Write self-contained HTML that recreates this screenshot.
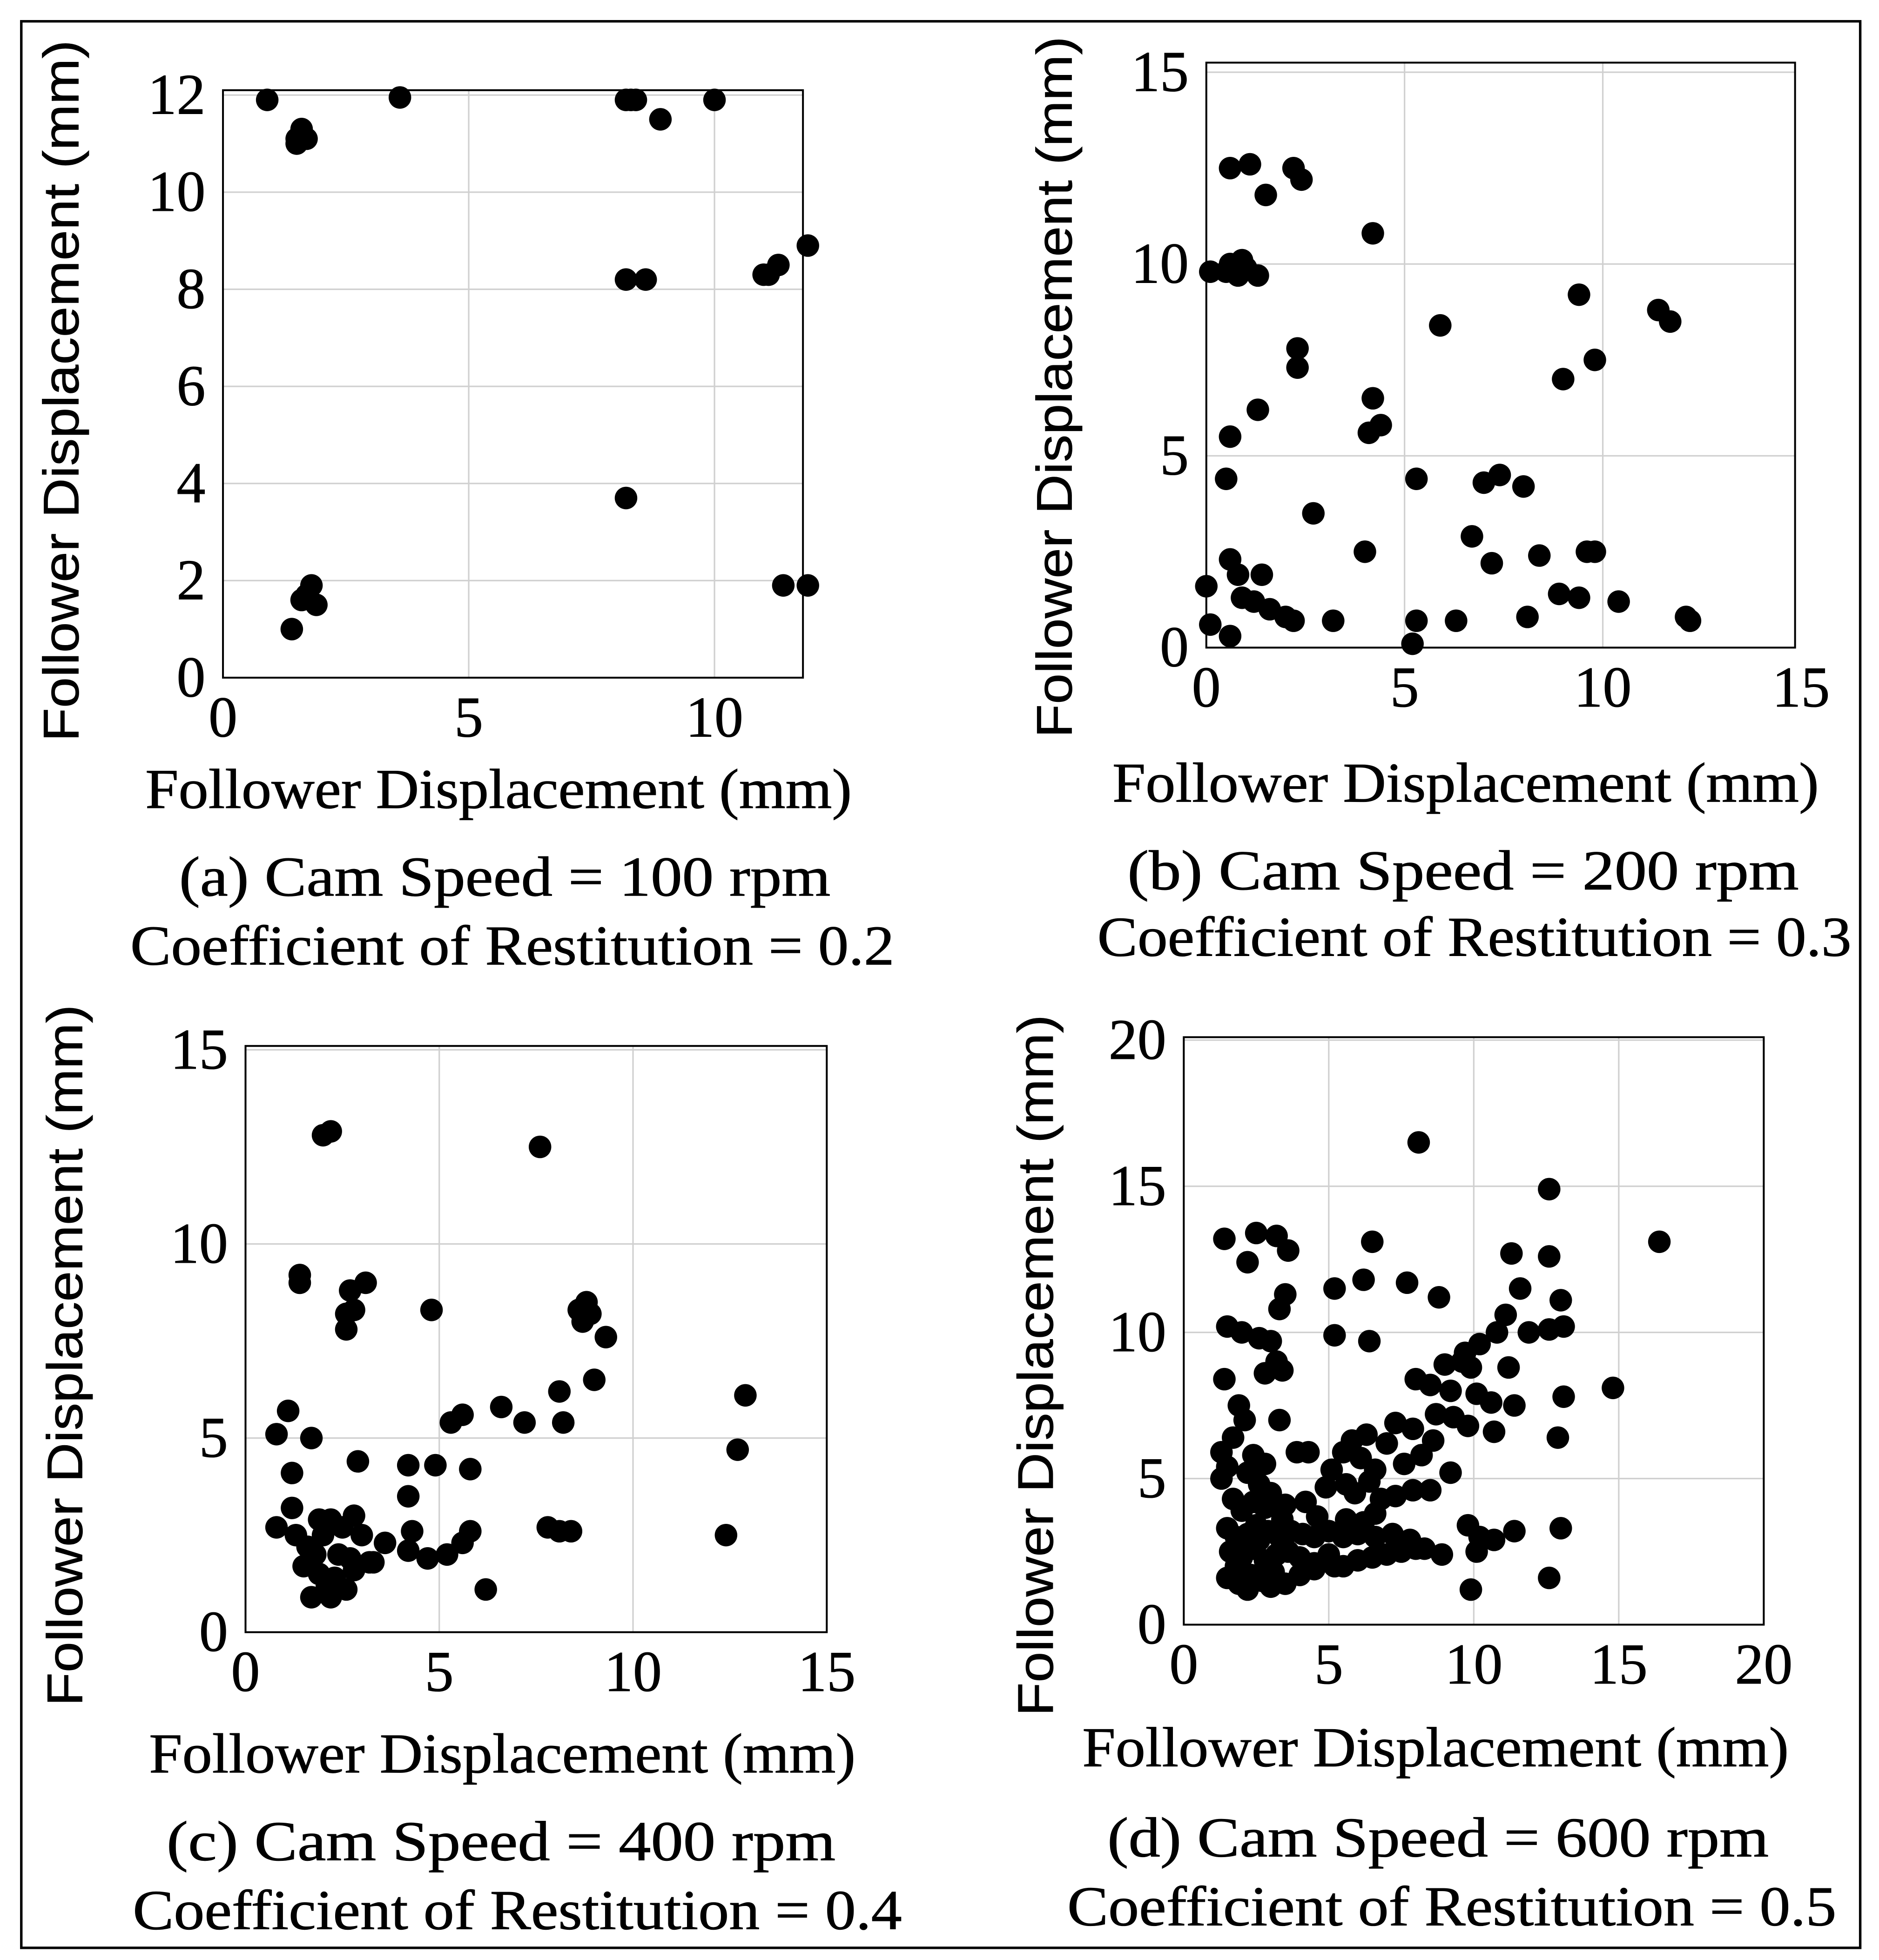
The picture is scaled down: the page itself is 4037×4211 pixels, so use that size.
<!DOCTYPE html>
<html><head><meta charset="utf-8">
<style>
html,body{margin:0;padding:0;background:#fff;}
svg{display:block;}
.tick{font-family:"Liberation Serif",serif;font-size:46px;fill:#000;stroke:#000;stroke-width:0.4;}
.ytitle{font-family:"Liberation Sans",sans-serif;font-size:40px;fill:#000;stroke:#000;stroke-width:0.3;}
.xtitle{font-family:"Liberation Serif",serif;font-size:45px;fill:#000;stroke:#000;stroke-width:0.4;}
.cap{font-family:"Liberation Serif",serif;font-size:45px;fill:#000;stroke:#000;stroke-width:0.4;}
</style></head>
<body>
<svg id="fig" width="4037" height="4211" viewBox="0 0 1500 1564.7" preserveAspectRatio="none" xmlns="http://www.w3.org/2000/svg">
<rect x="17" y="17" width="1468" height="1538" fill="none" stroke="#000" stroke-width="2"/>
</svg>
<script>
const ticksA_x=[0,5,10], ticksA_y=[0,2,4,6,8,10,12];
const ticksB=[0,5,10,15], ticksC=[0,5,10,15], ticksD=[0,5,10,15,20];
const ptsA_x=[0.9,3.6,8.2,8.4,8.3,10,8.9,1.5,1.6,1.7,1.5,8.2,8.6,11,11.1,11.3,11.9,8.2,11.4,11.9,1.8,1.7,1.6,1.9,1.4];
const ptsA_y=[11.9,11.95,11.9,11.9,11.9,11.9,11.5,11,11.3,11.1,11.1,8.2,8.2,8.3,8.3,8.5,8.9,3.7,1.9,1.9,1.9,1.7,1.6,1.5,1.0];
const ptsB_x=[0.1,0.5,0.6,0.8,0.9,1,1.3,0.6,1.1,1.5,2.2,2.4,4.2,1.3,0.6,0.5,2.3,2.3,4.2,4.1,4.4,5.9,9.4,11.4,11.7,9.0,9.8,5.3,7.0,7.4,8.0,2.7,6.7,7.2,8.4,9.6,9.8,4.0,0.6,0.8,1.4,0.0,0.9,1.2,1.6,2.0,2.2,3.2,0.1,0.6,5.3,6.3,5.2,8.1,8.9,9.4,10.4,12.1,12.2];
const ptsB_y=[9.8,9.8,10,9.7,10.1,9.9,9.7,12.5,12.6,11.8,12.5,12.2,10.8,6.2,5.5,4.4,7.8,7.3,6.5,5.6,5.8,8.4,9.2,8.8,8.5,7.0,7.5,4.4,4.3,4.5,4.2,3.5,2.9,2.2,2.4,2.5,2.5,2.5,2.3,1.9,1.9,1.6,1.3,1.2,1.0,0.8,0.7,0.7,0.6,0.3,0.7,0.7,0.1,0.8,1.4,1.3,1.2,0.8,0.7];
const ptsC_x=[2.0,2.2,7.6,1.4,1.4,2.7,3.1,2.6,2.8,2.6,4.8,8.6,8.8,8.9,8.7,9.3,9.0,8.1,8.2,6.6,7.2,5.6,5.3,0.8,1.1,1.7,1.2,2.9,4.2,4.9,5.8,12.9,12.7,12.4,4.2,1.2,0.8,1.3,1.6,1.8,2.0,2.2,2.5,2.8,1.9,2.1,1.7,2.3,2.6,2.8,3.2,3.6,4.2,4.3,4.7,5.2,5.6,5.8,6.2,7.8,8.1,8.4,1.5,2.4,3.0,1.9,2.7,2.2,3.3];
const ptsC_y=[12.8,12.9,12.5,9.2,9.0,8.8,9.0,8.2,8.3,7.8,8.3,8.3,8.5,8.2,8.0,7.6,6.5,6.2,5.4,5.8,5.4,5.6,5.4,5.1,5.7,5.0,4.1,4.4,4.3,4.3,4.2,6.1,4.7,2.5,3.5,3.2,2.7,2.5,2.2,2.0,2.5,2.9,2.7,3.0,1.5,1.2,0.9,1.4,1.1,1.6,1.8,2.3,2.1,2.6,1.9,2.0,2.3,2.6,1.1,2.7,2.6,2.6,1.7,2.0,2.5,2.9,1.9,0.9,1.8];
const ptsD_x=[8.1,12.6,16.4,1.4,2.5,3.2,3.6,2.2,6.5,7.7,6.2,5.2,3.5,3.3,8.8,11.3,12.6,11.6,13.0,11.1,10.8,11.9,12.6,13.1,1.5,2.0,2.6,3.0,3.2,2.8,3.4,1.4,5.2,6.4,10.2,9.7,9.6,9.0,9.9,11.2,8.0,8.5,9.2,10.1,10.6,11.4,13.1,14.8,8.7,9.3,9.8,7.9,8.6,7.3,7.0,7.6,8.2,9.2,10.7,12.9,1.9,2.1,1.7,1.3,1.5,1.3,2.4,2.8,3.3,2.6,3.0,2.4,2.0,2.8,3.5,3.9,4.3,4.9,5.1,5.5,5.8,6.3,6.1,6.6,5.6,5.9,6.4,6.8,7.3,7.9,8.5,4.6,5.6,6.2,6.6,1.5,1.8,2.2,2.5,2.9,3.3,3.7,4.1,4.5,5.0,5.5,6.0,6.6,7.2,7.8,8.3,1.6,2.0,2.4,2.8,3.2,3.6,4.0,4.5,5.0,5.5,6.0,6.5,7.0,7.5,8.0,1.5,1.9,2.3,2.7,3.1,3.5,4.0,4.5,5.2,2.2,3.0,8.9,9.8,10.2,10.7,11.4,10.1,9.9,12.6,13.0,1.8,2.6,3.4,4.2,1.7,2.2];
const ptsD_y=[16.5,14.9,13.1,13.2,13.4,13.3,12.8,12.4,13.1,11.7,11.8,11.5,11.3,10.8,11.2,12.7,12.6,11.5,11.1,10.6,10.0,10.0,10.1,10.2,10.2,10.0,9.8,9.7,9.0,8.6,8.7,8.4,9.9,9.7,9.6,9.3,9.0,8.9,8.8,8.8,8.4,8.2,8.0,7.9,7.6,7.5,7.8,8.1,7.2,7.1,6.8,6.7,6.3,6.9,6.2,5.5,5.8,5.2,6.6,6.4,7.5,7.0,6.4,5.9,5.4,5.0,5.8,5.5,7.0,4.8,4.5,4.2,3.9,4.0,4.1,5.9,5.9,4.7,5.3,5.9,6.3,6.5,5.7,5.3,4.8,4.5,4.9,4.3,4.4,4.6,4.6,3.7,3.6,3.5,3.8,3.3,3.0,3.1,3.4,3.2,3.0,3.2,3.1,3.0,3.2,3.0,3.1,3.0,3.1,2.9,2.6,2.5,2.3,2.6,2.2,2.4,2.5,2.3,2.1,2.4,2.0,2.2,2.3,2.4,2.5,2.6,1.6,1.4,1.7,1.5,1.8,1.4,1.7,1.9,2.0,1.2,1.3,2.4,3.4,3.0,2.9,3.2,2.5,1.2,1.6,3.3,2.0,2.9,3.6,4.2,4.3,5.2];

const NS="http://www.w3.org/2000/svg";
const svg=document.getElementById('fig');
function mk(tag,attrs,parent){const e=document.createElementNS(NS,tag);for(const k in attrs)e.setAttribute(k,attrs[k]);(parent||svg).appendChild(e);return e;}

const panels=[
 {id:'a',L:178,R:641,T:72,B:541,xmin:0,xmax:11.8,ymin:0,ymax:12.1,xt:ticksA_x,yt:ticksA_y,xs:ptsA_x,ys:ptsA_y,
  yT:[52,312],xT:[398,630],c1:[403,700,"(a) Cam Speed  = 100 rpm",520],c2:[409,755,"Coefficient of Restitution =  0.2",610]},
 {id:'b',L:963,R:1433,T:50,B:517,xmin:0,xmax:14.85,ymin:0,ymax:15.25,xt:ticksB,yt:ticksB,xs:ptsB_x,ys:ptsB_y,
  yT:[845,309],xT:[1170,625],c1:[1168,695,"(b)  Cam Speed  = 200 rpm",536],c2:[1177,748,"Coefficient of Restitution = 0.3",602]},
 {id:'c',L:196,R:660,T:835,B:1303,xmin:0,xmax:15,ymin:0,ymax:15.1,xt:ticksC,yt:ticksC,xs:ptsC_x,ys:ptsC_y,
  yT:[55,1082],xT:[401,1400],c1:[400,1470,"(c)  Cam Speed  = 400 rpm",534],c2:[413,1525,"Coefficient of Restitution =  0.4",614]},
 {id:'d',L:945,R:1408,T:828,B:1297,xmin:0,xmax:20,ymin:0,ymax:20.1,xt:ticksD,yt:ticksD,xs:ptsD_x,ys:ptsD_y,
  yT:[830,1090],xT:[1146,1395],c1:[1148,1467,"(d) Cam Speed  = 600 rpm",528],c2:[1159,1522,"Coefficient of Restitution =  0.5",614]}
];

panels.forEach(p=>{
 const g=mk('g',{});
 
 
 const sx=v=>p.L+(v-p.xmin)/(p.xmax-p.xmin)*(p.R-p.L);
 const sy=v=>p.B-(v-p.ymin)/(p.ymax-p.ymin)*(p.B-p.T);
 p.xt.forEach(t=>{
  const x=sx(t);
  if(t>p.xmin && x<p.R-2){const l=mk('line',{x1:x,x2:x,y1:p.T,y2:p.B,stroke:'#d0d0d0','stroke-width':1.2},g);
   }
  const tx=mk('text',{x:x,y:p.B+47,'text-anchor':'middle',class:'tick'},g);tx.textContent=t;
  
 });
 p.yt.forEach(t=>{
  const y=sy(t);
  if(t>p.ymin && y>p.T+2){const l=mk('line',{x1:p.L,x2:p.R,y1:y,y2:y,stroke:'#d0d0d0','stroke-width':1.2},g);
   }
  const tx=mk('text',{x:p.L-14,y:y+15,'text-anchor':'end',class:'tick'},g);tx.textContent=t;
  
 });
 const box=mk('rect',{x:p.L,y:p.T,width:p.R-p.L,height:p.B-p.T,fill:'none',stroke:'#000','stroke-width':1.5},g);
 
 for(let i=0;i<p.xs.length;i++){
  const c=mk('circle',{cx:sx(p.xs[i]),cy:sy(p.ys[i]),r:9,fill:'#000'},g);
  
  
 }
 const yt=mk('text',{x:p.yT[0],y:p.yT[1],'text-anchor':'middle',class:'ytitle',transform:`rotate(-90 ${p.yT[0]} ${p.yT[1]})`,'dominant-baseline':'middle',textLength:560,lengthAdjust:'spacingAndGlyphs'},g);
 yt.textContent='Follower Displacement (mm)';
 
 const xt=mk('text',{x:p.xT[0],y:p.xT[1]+15,'text-anchor':'middle',class:'xtitle',textLength:564,lengthAdjust:'spacingAndGlyphs'},g);
 xt.textContent='Follower Displacement (mm)';
 
 const c1=mk('text',{x:p.c1[0],y:p.c1[1]+15,'text-anchor':'middle',class:'cap','xml:space':'preserve',textLength:p.c1[3],lengthAdjust:'spacingAndGlyphs'},g);
 c1.textContent=p.c1[2];
 
 const c2=mk('text',{x:p.c2[0],y:p.c2[1]+15,'text-anchor':'middle',class:'cap','xml:space':'preserve',textLength:p.c2[3],lengthAdjust:'spacingAndGlyphs'},g);
 c2.textContent=p.c2[2];
 
});
</script>
</body></html>
